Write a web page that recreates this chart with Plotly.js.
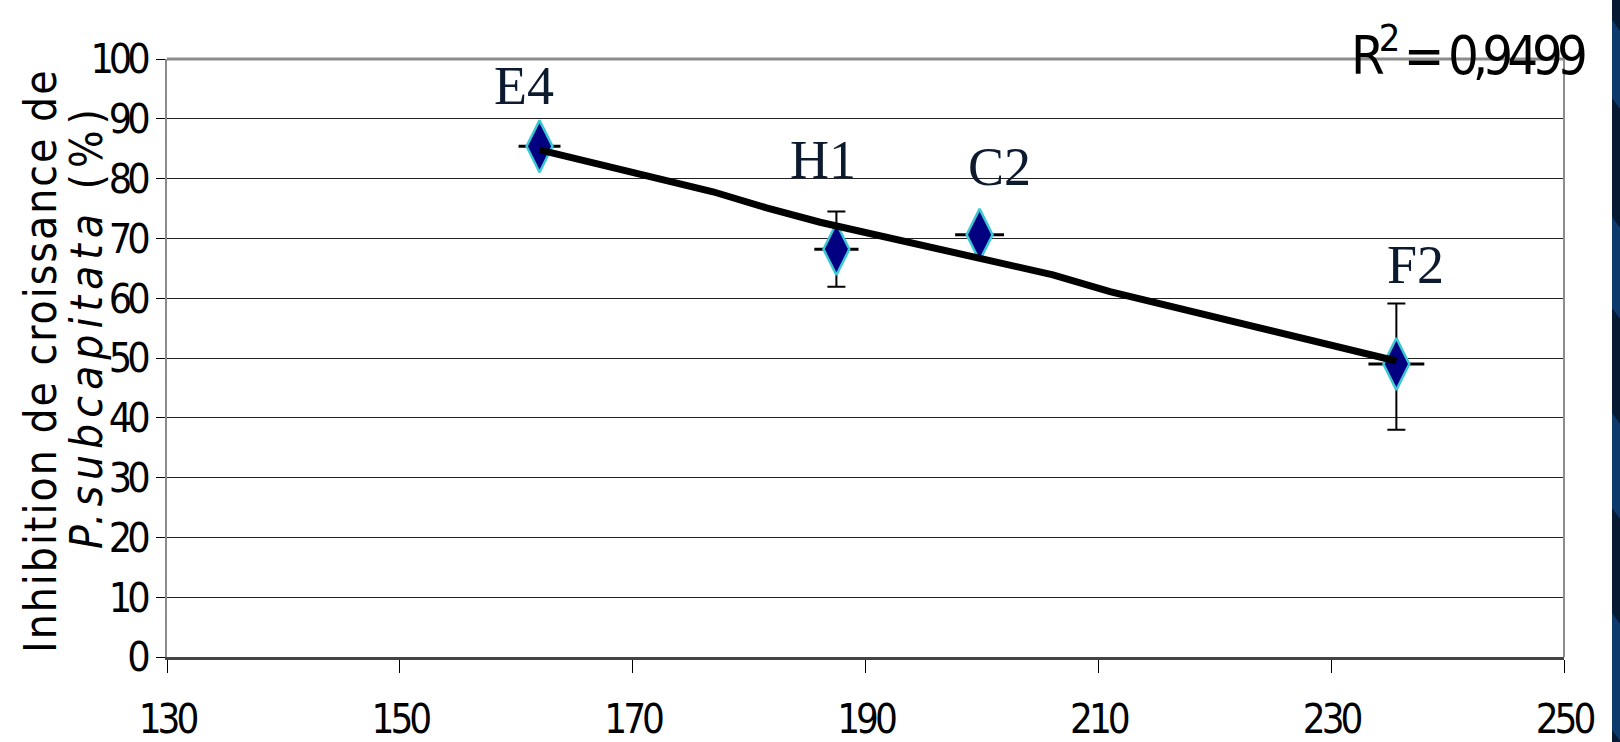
<!DOCTYPE html>
<html>
<head>
<meta charset="utf-8">
<script src="https://cdn.plot.ly/plotly-3.0.1.min.js"></script>
<style>
  html, body { margin: 0; padding: 0; background: #ffffff; }
  #chart { width: 1620px; height: 742px; }
  .xtick text { font-stretch: condensed !important; letter-spacing: -4px; }
  .ytick text { font-stretch: condensed !important; letter-spacing: -5px; }
  g.annotation[data-index="4"] text { font-stretch: condensed !important; letter-spacing: -6px; }
  g.annotation[data-index="5"] text { font-stretch: condensed !important; letter-spacing: 2px; }
  g.annotation[data-index="6"] text { font-stretch: condensed !important; letter-spacing: 6px; }
</style>
</head>
<body>
<div id="chart"></div>
<script>
// ---- data ----
const sampleLabels = ['E4', 'H1', 'C2', 'F2'];
const xValues = [162.0, 187.5, 199.8, 235.6];
const yValues = [85.4, 68.2, 70.6, 49.0];
const yErrPlus = [0, 6.3, 0, 10.1];
const yErrMinus = [0, 6.3, 0, 11.0];
const xErr = [1.8, 1.9, 2.1, 2.4];
const trendX = [162.0, 176.9, 181.5, 186.1, 206.1, 211.0, 235.6];
const trendY = [84.8, 77.8, 75.1, 72.7, 63.9, 61.1, 49.5];
const rSquaredText = 'R<sup>2</sup> = 0,9499';
const yTitleLine1 = 'Inhibition de croissance de';
const yTitleLine2 = '<i>P.subcapitata</i> (%)';
const xTicks = [130, 150, 170, 190, 210, 230, 250];
const yTicks = [0, 10, 20, 30, 40, 50, 60, 70, 80, 90, 100];

// ---- layout helpers (pixel -> paper) ----
const W = 1620, H = 742;
const mL = 167, mR = 56, mT = 59, mB = 85;
const plotW = W - mL - mR, plotH = H - mT - mB;
const px = v => (v - mL) / plotW;
const py = v => (H - mB - v) / plotH;

const narrow = "'DejaVu Sans Condensed', 'Liberation Sans Narrow', 'Arial Narrow', 'DejaVu Sans', sans-serif";

const points = {
  x: xValues, y: yValues, type: 'scatter', mode: 'markers',
  marker: { symbol: 'diamond-tall', size: 37, color: '#000080',
            line: { color: '#3cc8d2', width: 2.5 } },
  error_y: { type: 'data', array: yErrPlus, arrayminus: yErrMinus, symmetric: false,
             color: '#000000', thickness: 2, width: 9, visible: true },
  error_x: { type: 'data', array: xErr, color: '#000000', thickness: 3, width: 0, visible: true },
  hoverinfo: 'x+y', showlegend: false
};

const trend = {
  x: trendX, y: trendY, type: 'scatter', mode: 'lines',
  line: { color: '#000000', width: 7 }, hoverinfo: 'skip', showlegend: false
};

const labelShift = [[-16, 60], [-13, 89], [20, 68], [19, 99]];
const annotations = sampleLabels.map((t, i) => ({
  x: xValues[i], y: yValues[i], xref: 'x', yref: 'y', text: t, showarrow: false,
  xshift: labelShift[i][0], yshift: labelShift[i][1],
  font: { family: "'Liberation Serif', 'Times New Roman', serif", size: 54, color: '#0b1a2e' }
}));
annotations.push({
  xref: 'paper', yref: 'paper', x: px(1617), y: py(52), xanchor: 'right', yanchor: 'middle',
  text: rSquaredText, showarrow: false,
  font: { family: narrow, size: 54, color: '#000000' }
});
// y-axis title, two lines
annotations.push({
  xref: 'paper', yref: 'paper', x: px(40), y: py(361), xanchor: 'center', yanchor: 'middle',
  text: yTitleLine1, textangle: -90, showarrow: false,
  font: { family: narrow, size: 44, color: '#000000' }
});
annotations.push({
  xref: 'paper', yref: 'paper', x: px(86), y: py(326), xanchor: 'center', yanchor: 'middle',
  text: yTitleLine2, textangle: -90, showarrow: false,
  font: { family: narrow, size: 44, color: '#000000' }
});

// right-side dark blue band
const shapes = [
  { type: 'rect', xref: 'paper', yref: 'paper', x0: px(1612), x1: px(1621), y0: py(742), y1: py(0),
    fillcolor: '#071a33', line: { width: 0 }, layer: 'above' }
];
const bands = [[20, 110], [217, 320], [413, 520], [613, 742]];
bands.forEach(b => {
  shapes.push({ type: 'path', xref: 'paper', yref: 'paper',
    path: `M ${px(1612)} ${py(b[0])} L ${px(1621)} ${py(b[0] + 12)} L ${px(1621)} ${py(b[1])} L ${px(1612)} ${py(b[1] - 12)} Z`,
    fillcolor: '#0c3a6c', line: { width: 0 }, layer: 'above' });
});

const layout = {
  width: W, height: H,
  margin: { l: mL, r: mR, t: mT, b: mB, pad: 0 },
  paper_bgcolor: '#ffffff', plot_bgcolor: '#ffffff',
  showlegend: false,
  xaxis: {
    range: [130, 250], tickvals: xTicks, ticktext: xTicks.map(String),
    ticks: 'outside', ticklen: 13, tickwidth: 1, tickcolor: '#000000',
    showgrid: false, zeroline: false,
    showline: true, linecolor: '#444444', linewidth: 3,
    tickfont: { family: narrow, size: 40, color: '#000000' },
    ticklabelstandoff: 12,
    mirror: false
  },
  yaxis: {
    range: [0, 100], tickvals: yTicks, ticktext: yTicks.map(String),
    ticks: 'outside', ticklen: 9, tickwidth: 1, tickcolor: '#000000',
    showgrid: true, gridcolor: '#222222', gridwidth: 1, zeroline: false,
    showline: true, linecolor: '#8a8a8a', linewidth: 2,
    tickfont: { family: narrow, size: 41, color: '#000000' },
    ticklabelstandoff: 2
  },
  shapes: shapes.concat([
    { type: 'line', xref: 'paper', yref: 'paper', x0: 0, x1: 1, y0: 1, y1: 1,
      line: { color: '#8c8c8c', width: 3 } },
    { type: 'line', xref: 'paper', yref: 'paper', x0: 1, x1: 1, y0: 0, y1: 1,
      line: { color: '#8c8c8c', width: 2 } }
  ]),
  annotations: annotations
};

Plotly.newPlot('chart', [points, trend], layout, { displayModeBar: false, staticPlot: true });
</script>
</body>
</html>
